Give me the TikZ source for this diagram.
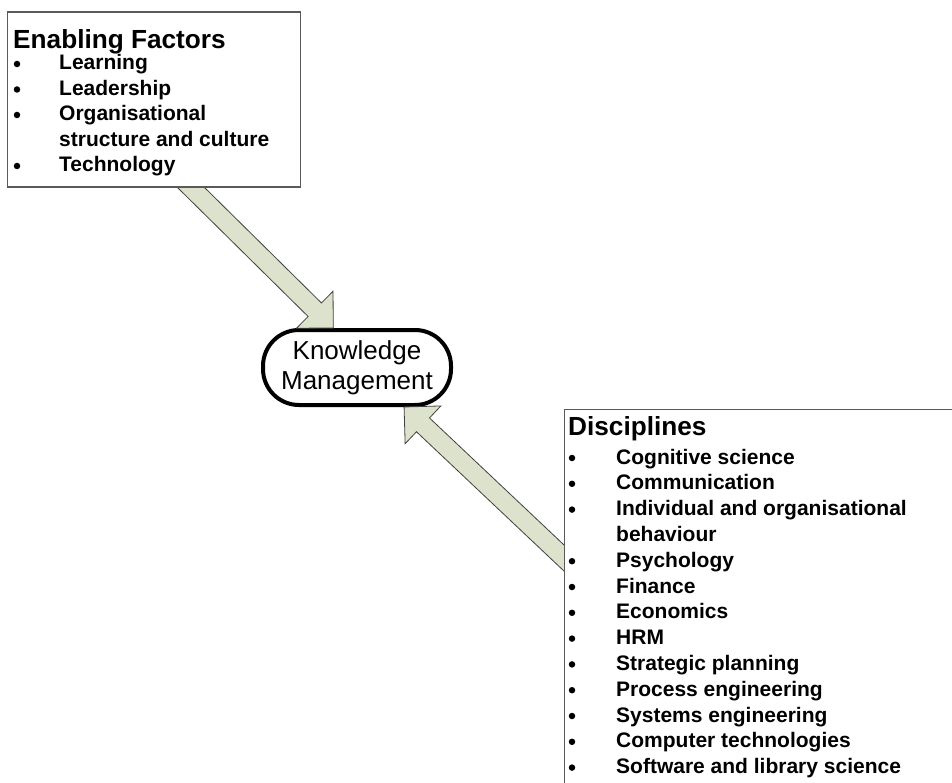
\documentclass[tikz,border=0pt]{standalone}
\usepackage{fontspec}
\setmainfont{Liberation Sans}
\usetikzlibrary{calc}

\definecolor{arrowfill}{RGB}{221,226,204}
\definecolor{boxline}{RGB}{90,90,90}

\begin{document}
\begin{tikzpicture}[x=1pt,y=-1pt,
	box/.style={draw=boxline,line width=1.3pt,fill=white,anchor=north west,inner sep=0pt},
	head/.style={anchor=base west,inner sep=0pt,font=\fontsize{26.2}{30}\selectfont\bfseries},
	item/.style={anchor=base west,inner sep=0pt,font=\fontsize{21}{25}\selectfont\bfseries},
	dot/.style={circle,fill,inner sep=0pt,minimum size=6.5pt},
	kmnode/.style={draw,line width=4pt,rounded corners=36pt,minimum width=188pt,minimum height=75pt,
		align=center,fill=white,font=\fontsize{26}{30}\selectfont},
	blockarrow/.style={draw=black!75,line width=0.8pt,fill=arrowfill,line join=miter}]
				\useasboundingbox (0,0) rectangle (952,783);
				\clip (0,0) rectangle (952,783);

				\node[kmnode] (km) at (357,367.5) {Knowledge\\Management};

				\coordinate (eftip) at (km.121);
				\coordinate (efout) at (150,147);
				\coordinate (dstip) at (km.-40);
				\coordinate (dsout) at (600,592);

				\foreach \src/\tip in {efout/eftip, dsout/dstip}
				{
					\coordinate (hb) at ($(\tip)!26pt!(\src)$);
					\draw[blockarrow] ($(\src)!9.5pt!90:(\tip)$) -- ($(hb)!9.5pt!90:(\tip)$)
						-- ($(hb)!26pt!90:(\tip)$) -- (\tip) -- ($(hb)!26pt!-90:(\tip)$)
						-- ($(hb)!9.5pt!-90:(\tip)$) -- ($(\src)!9.5pt!-90:(\tip)$) -- cycle;
				}

				\node[box,minimum width=293pt,minimum height=175pt] (ef) at (6.5,11.5) {};
				\node[head] (ef-title) at (13,49) {Enabling Factors};
				\foreach \i/\txt/\bul in
					{1/Learning/1, 2/Leadership/1, 3/Organisational/1,
					 4/structure and culture/0, 5/Technology/1}
				{
					\node[item] (ef-\i) at (59,{70+25.5*(\i-1)}) {\txt};
					\ifnum\bul=1 \node[dot] (ef-dot-\i) at (17,{64+25.5*(\i-1)}) {}; \fi
				}

				\node[box,minimum width=500pt,minimum height=500pt] (ds) at (563.5,408.5) {};
				\node[head] (ds-title) at (568,435) {Disciplines};
				\foreach \i/\txt/\bul in
					{1/Cognitive science/1, 2/Communication/1, 3/Individual and organisational/1,
					 4/behaviour/0, 5/Psychology/1, 6/Finance/1, 7/Economics/1, 8/HRM/1,
					 9/Strategic planning/1, 10/Process engineering/1, 11/Systems engineering/1,
					 12/Computer technologies/1, 13/Software and library science/1}
				{
					\node[item] (ds-\i) at (616,{464+25.8*(\i-1)}) {\txt};
					\ifnum\bul=1 \node[dot] (ds-dot-\i) at (572,{458+25.8*(\i-1)}) {}; \fi
				}
\end{tikzpicture}
\end{document}
